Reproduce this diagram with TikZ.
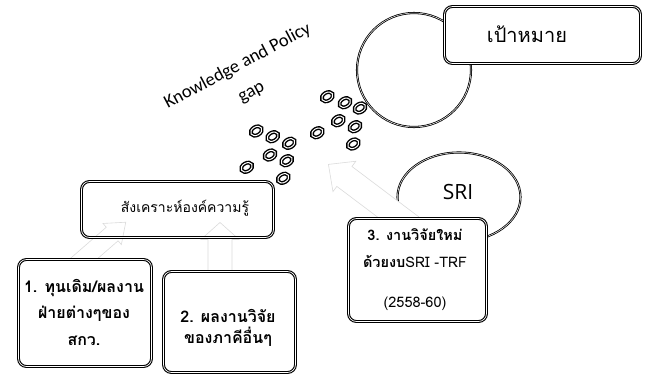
\documentclass[tikz,border=0pt]{standalone}
\usepackage{fontspec}
\newfontfamily\thaifont[Script=Thai]{Loma}
\newfontfamily\calfont{Carlito}
\newfontfamily\srifont{Open Sans}
\usetikzlibrary{shapes.geometric,calc}
\pgfdeclarelayer{back}
\pgfdeclarelayer{mid}
\pgfsetlayers{back,mid,main}
\tikzset{
  dbl/.style={draw=black, line width=1.1pt, double=white, double distance=0.7pt},
  thindbl/.style={draw=black, line width=0.8pt, double=white, double distance=0.5pt},
  rbox/.style={dbl, rounded corners=8pt, inner sep=0pt},
  bubble/.style={ellipse, draw=black, line width=1.4pt, double=white, double distance=1pt,
     fill=white, minimum width=12pt, minimum height=8.4pt, inner sep=0pt, rotate=30},
  hollowarrow/.style={draw=black!14, fill=white, line width=0.6pt},
  boldtxt/.style={align=center, font=\thaifont\bfseries\fontsize{16}{26.5}\selectfont},
}
\begin{document}
\begin{tikzpicture}[x=1pt,y=-1pt]
\useasboundingbox (0,0) rectangle (648,376);

% boxes
\node[rbox, fill=white, minimum width=196pt, minimum height=57pt] (goal) at (542.5,35) {};
\node[font=\thaifont\fontsize{20}{24}\selectfont] (goaltext) at (527,34) {เป้าหมาย};

\node[rbox, minimum width=192pt, minimum height=56pt] (synth) at (177.5,209.5) {};
\node[font=\thaifont\fontsize{14}{20}\selectfont] (synthtext) at (185,208) {สังเคราะห์องค์ความรู้};

\node[rbox, fill=white, minimum width=133pt, minimum height=107pt] (box1) at (85,313) {};
\node[boldtxt] (box1text) at (84,312) {1. ทุนเดิม/ผลงาน\\ฝ่ายต่างๆของ\\สกว.};

\node[rbox, fill=white, minimum width=132pt, minimum height=101pt] (box2) at (229.5,322) {};
\node[boldtxt, font=\thaifont\bfseries\fontsize{16}{20.5}\selectfont] (box2text) at (228,328) {2. ผลงานวิจัย\\ของภาคีอื่นๆ};

\node[rbox, fill=white, minimum width=138pt, minimum height=103pt] (box3) at (417.5,270) {};
\node[align=center, font=\thaifont\fontsize{14.5}{27}\selectfont] (box3text) at (415,270)
  {{\bfseries 3. งานวิจัยใหม่}\\{\bfseries ด้วยงบ}SRI -TRF\\[13pt](2558-60)};

% circles
\begin{pgfonlayer}{back}
\fill[white] (0,0) rectangle (648,376);
\node[circle, thindbl, minimum size=114pt, inner sep=0pt] (gapcircle) at (414,70) {};
\node[ellipse, thindbl, minimum width=123pt, minimum height=89pt, inner sep=0pt] (sri) at (459,197) {};
\end{pgfonlayer}
\node[font=\srifont\fontsize{21}{25}\selectfont] (sritext) at (458,192) {SRI};

% hollow block arrows and bubbles
\begin{pgfonlayer}{mid}
\begin{scope}[shift={($(box1.north)+(-1.5,0)$)}, rotate=41]
  \draw[hollowarrow] (-15pt,-9pt) -- (38pt,-9pt) -- (38pt,-14pt) -- (56pt,0pt)
    -- (38pt,14pt) -- (38pt,9pt) -- (-15pt,9pt) -- cycle;
\end{scope}
\begin{scope}[shift={($(box2.north)+(-9.5,0)$)}, rotate=90]
  \draw[hollowarrow] (-10pt,-12pt) -- (31.5pt,-12pt) -- (31.5pt,-19pt) -- (48.5pt,0pt)
    -- (31.5pt,19pt) -- (31.5pt,12pt) -- (-10pt,12pt) -- cycle;
\end{scope}
\begin{scope}[shift={($(box3.north)+(-18,0)$)}, rotate=143]
  \draw[hollowarrow] (-15pt,-12.5pt) -- (69pt,-12.5pt) -- (69pt,-19pt) -- (89pt,0pt)
    -- (69pt,19pt) -- (69pt,12.5pt) -- (-15pt,12.5pt) -- cycle;
\end{scope}
\foreach \p [count=\i] in {(256.3,131),(272.7,136.7),(289.3,143.3),(270,155),
    (286.7,160.7),(246.7,167.3),(283.3,178.3),(327.3,96.7),(345,102.7),(360,108),
    (338.3,120.7),(355,126.7),(317.3,132.7),(353.3,144)}
  \node[bubble] (b\i) at \p {};
\end{pgfonlayer}

\node[font=\calfont\fontsize{18.5}{29}\selectfont, align=center, rotate=28] (gaplabel)
  at (244.5,79) {Knowledge and Policy\\gap};
\end{tikzpicture}
\end{document}
